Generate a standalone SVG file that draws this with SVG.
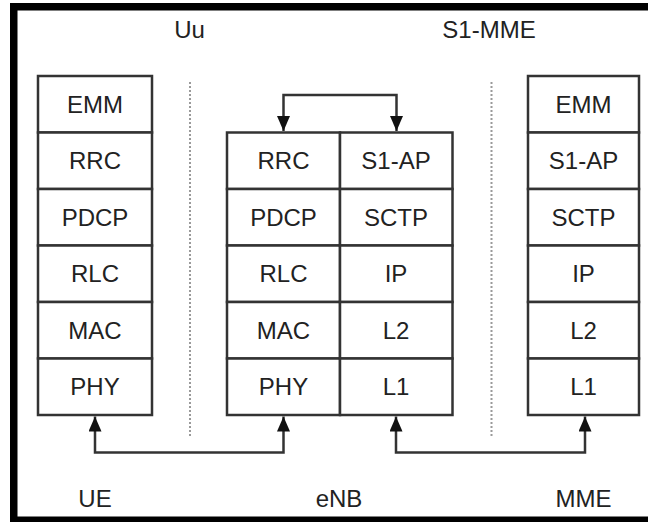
<svg xmlns="http://www.w3.org/2000/svg" width="648" height="522" viewBox="0 0 648 522">
<style>
.box{fill:#fff;stroke:#333;stroke-width:2.5}
.t{font-family:"Liberation Sans",Arial,sans-serif;font-size:24px;fill:#222;text-anchor:middle}
.c{fill:none;stroke:#333;stroke-width:2.5}
.dot{stroke:#9a9a9a;stroke-width:2;stroke-dasharray:2 2}
</style>
<defs>
<marker id="ah" viewBox="0 0 15 13" refX="15" refY="6.5" markerWidth="15" markerHeight="13" markerUnits="userSpaceOnUse" orient="auto-start-reverse">
<path d="M0,0 L15,6.5 L0,13 z" fill="#111"/>
</marker>
</defs>
<rect x="0" y="0" width="648" height="522" fill="#fff"/>
<rect x="13.75" y="6.75" width="700" height="513.5" fill="none" stroke="#000" stroke-width="7.5"/>

<g id="dividers">
<line class="dot" x1="190" y1="82" x2="190" y2="437"/>
<line class="dot" x1="491.5" y1="82" x2="491.5" y2="437"/>
</g>

<g id="interface-labels">
<text class="t" x="189.5" y="38">Uu</text>
<text class="t" x="489" y="38">S1-MME</text>
</g>

<g id="UE">
<rect class="box" x="38" y="76" width="114" height="56.5"/>
<rect class="box" x="38" y="132.5" width="114" height="56.5"/>
<rect class="box" x="38" y="189" width="114" height="56.5"/>
<rect class="box" x="38" y="245.5" width="114" height="56.5"/>
<rect class="box" x="38" y="302" width="114" height="56.5"/>
<rect class="box" x="38" y="358.5" width="114" height="56.5"/>
<text class="t" x="95" y="112.5">EMM</text>
<text class="t" x="95" y="169">RRC</text>
<text class="t" x="95" y="225.5">PDCP</text>
<text class="t" x="95" y="282">RLC</text>
<text class="t" x="95" y="338.5">MAC</text>
<text class="t" x="95" y="395">PHY</text>
<text class="t" x="95" y="507">UE</text>
</g>

<g id="eNB">
<rect class="box" x="227" y="132.5" width="113" height="56.5"/>
<rect class="box" x="227" y="189" width="113" height="56.5"/>
<rect class="box" x="227" y="245.5" width="113" height="56.5"/>
<rect class="box" x="227" y="302" width="113" height="56.5"/>
<rect class="box" x="227" y="358.5" width="113" height="56.5"/>
<rect class="box" x="340" y="132.5" width="112.5" height="56.5"/>
<rect class="box" x="340" y="189" width="112.5" height="56.5"/>
<rect class="box" x="340" y="245.5" width="112.5" height="56.5"/>
<rect class="box" x="340" y="302" width="112.5" height="56.5"/>
<rect class="box" x="340" y="358.5" width="112.5" height="56.5"/>
<text class="t" x="283.5" y="169">RRC</text>
<text class="t" x="283.5" y="225.5">PDCP</text>
<text class="t" x="283.5" y="282">RLC</text>
<text class="t" x="283.5" y="338.5">MAC</text>
<text class="t" x="283.5" y="395">PHY</text>
<text class="t" x="396" y="169">S1-AP</text>
<text class="t" x="396" y="225.5">SCTP</text>
<text class="t" x="396" y="282">IP</text>
<text class="t" x="396" y="338.5">L2</text>
<text class="t" x="396" y="395">L1</text>
<text class="t" x="339" y="507">eNB</text>
</g>

<g id="MME">
<rect class="box" x="528" y="76" width="111" height="56.5"/>
<rect class="box" x="528" y="132.5" width="111" height="56.5"/>
<rect class="box" x="528" y="189" width="111" height="56.5"/>
<rect class="box" x="528" y="245.5" width="111" height="56.5"/>
<rect class="box" x="528" y="302" width="111" height="56.5"/>
<rect class="box" x="528" y="358.5" width="111" height="56.5"/>
<text class="t" x="583.5" y="112.5">EMM</text>
<text class="t" x="583.5" y="169">S1-AP</text>
<text class="t" x="583.5" y="225.5">SCTP</text>
<text class="t" x="583.5" y="282">IP</text>
<text class="t" x="583.5" y="338.5">L2</text>
<text class="t" x="583.5" y="395">L1</text>
<text class="t" x="583.5" y="507">MME</text>
</g>

<g id="connectors">
<path class="c" d="M283.5,131 V95 H396.5 V131" marker-start="url(#ah)" marker-end="url(#ah)"/>
<path class="c" d="M95,416.5 V452.5 H283.5 V416.5" marker-start="url(#ah)" marker-end="url(#ah)"/>
<path class="c" d="M396,416.5 V452.5 H585 V416.5" marker-start="url(#ah)" marker-end="url(#ah)"/>
</g>
</svg>
